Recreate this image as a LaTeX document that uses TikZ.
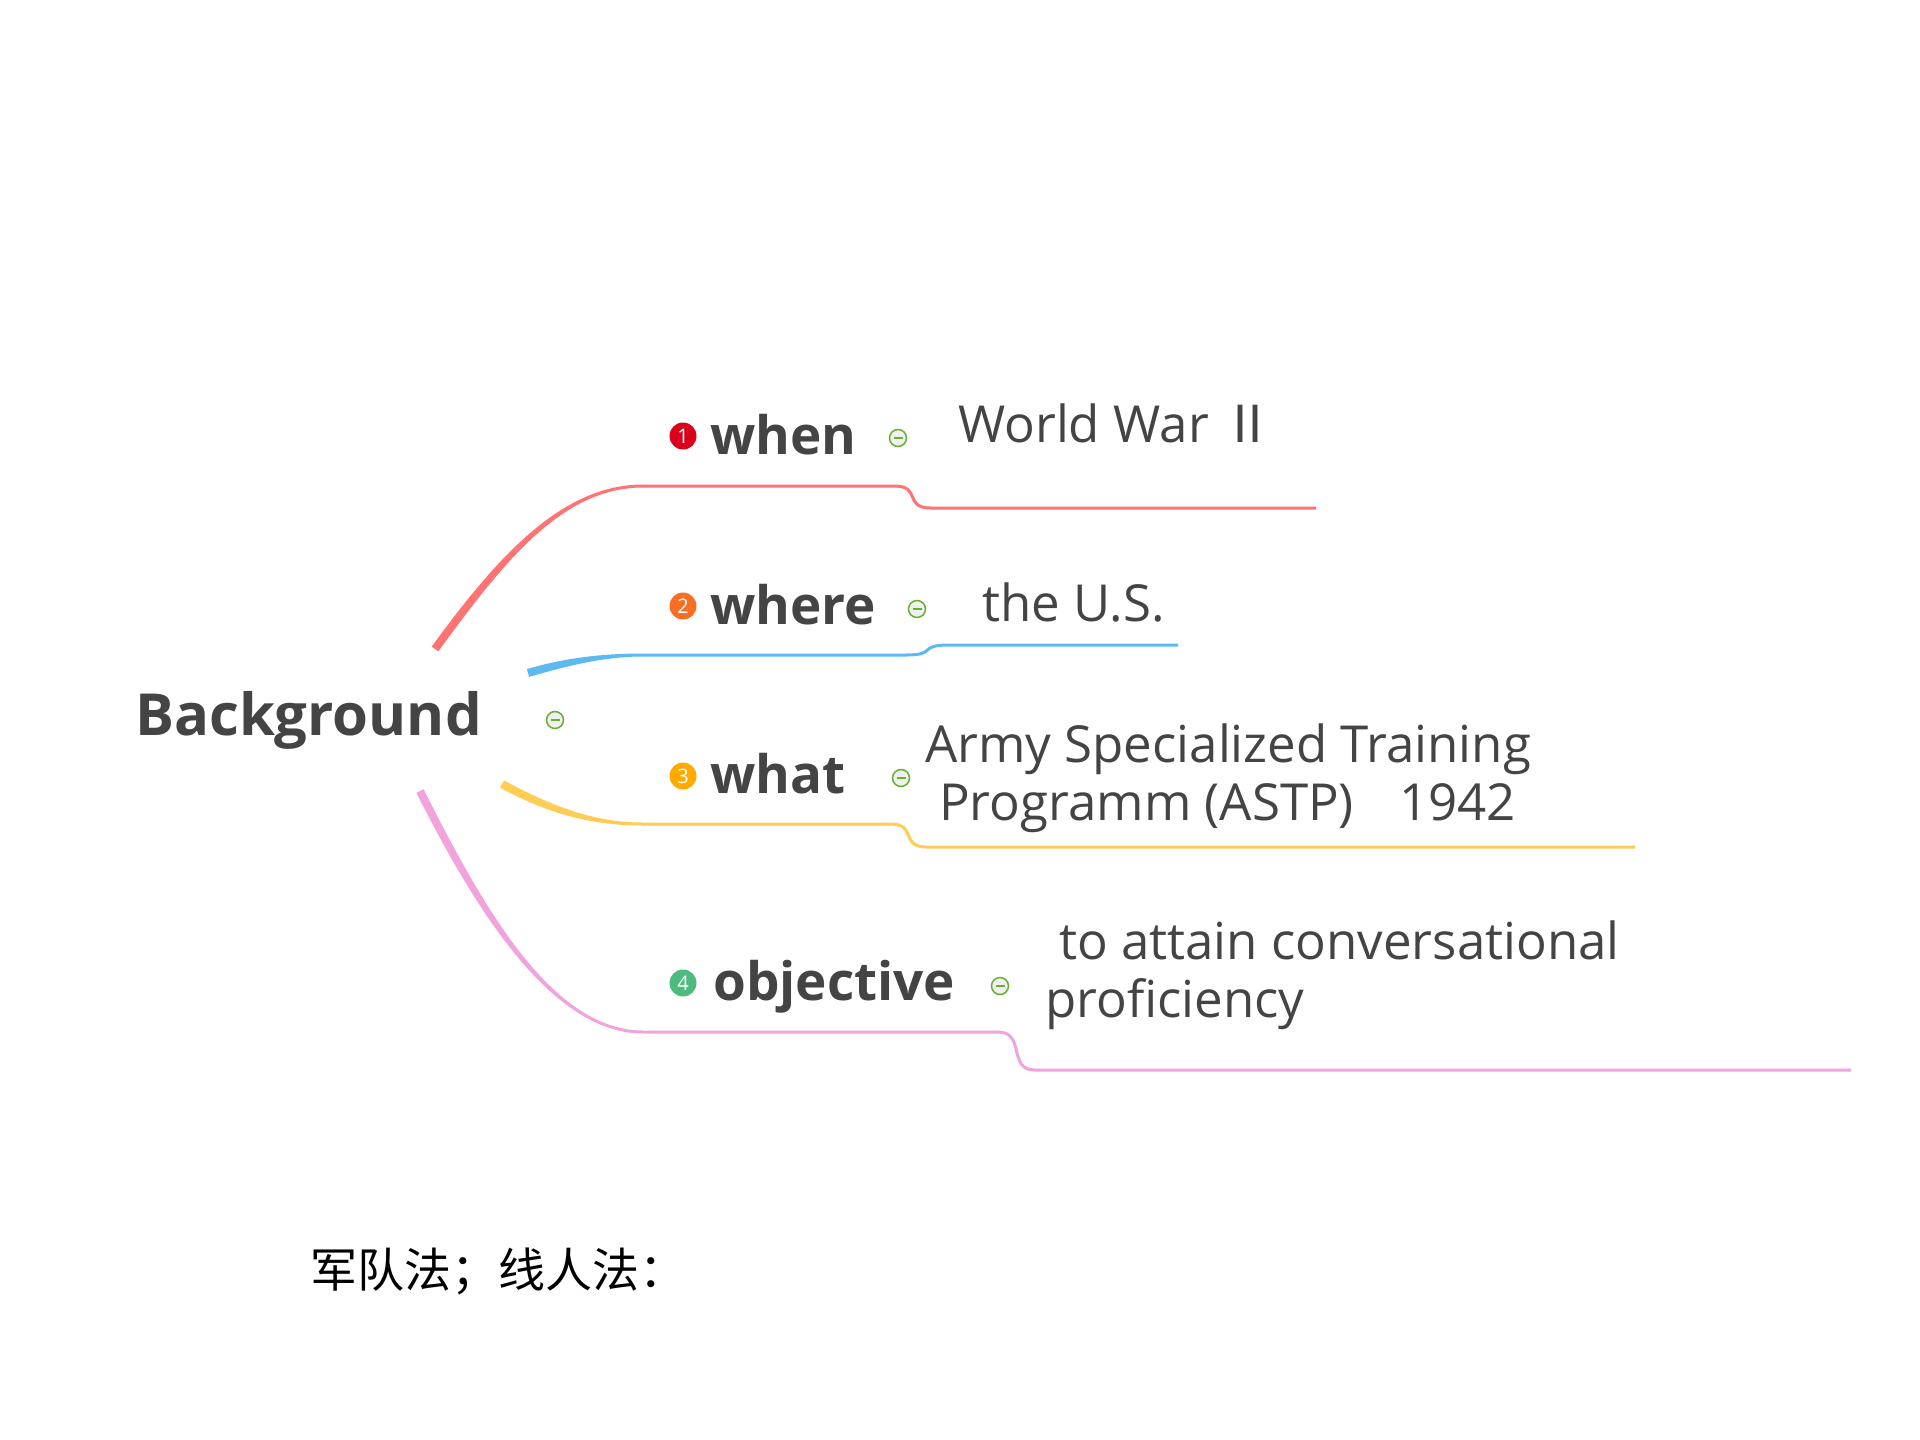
\documentclass[tikz,border=0pt]{standalone}
\usepackage{fontspec}
\setmainfont{Open Sans}
\newfontfamily\cjk{Noto Sans CJK SC}
\usetikzlibrary{calc}
\definecolor{txt}{HTML}{444444}
\definecolor{cred}{HTML}{FF7373}
\definecolor{cblue}{HTML}{5DB9F2}
\definecolor{cyel}{HTML}{FFCC55}
\definecolor{cpink}{HTML}{F0A3DD}
\definecolor{nred}{HTML}{D9001B}
\definecolor{norange}{HTML}{FA6E23}
\definecolor{nyel}{HTML}{FFAA00}
\definecolor{ngreen}{HTML}{4FBA7D}
\definecolor{mgreen}{HTML}{66B032}
\tikzset{
 root/.style={anchor=base west, inner sep=0, text=txt, font=\fontsize{58}{70}\selectfont\bfseries},
 topic/.style={anchor=base west, inner sep=0, text=txt, font=\fontsize{53}{64}\selectfont\bfseries},
 leaf/.style={anchor=base west, inner sep=0, text=txt, font=\fontsize{51}{59}\selectfont},
 num/.style={circle, fill=#1, inner sep=0, minimum size=27, text=white, font=\fontsize{20}{20}\selectfont},
 fold/.style={circle, draw=mgreen, line width=1.5, fill=black!6, minimum size=17, inner sep=0,
   path picture={\draw[mgreen, line width=1.6] ($(path picture bounding box.center)+(-4.5,0)$) -- ++(9,0);}},
 thinline/.style={line width=3},
}
\begin{document}
\begin{tikzpicture}[x=1pt,y=-1pt]
\useasboundingbox[fill=white] (0,0) rectangle (1920,1440);

% coordinates of branches
\coordinate (r0) at (435,649); \coordinate (r1) at (502,557); \coordinate (r2) at (563,486); \coordinate (r3) at (643,486);
\coordinate (r4) at (894,486); \coordinate (r5) at (931,508); \coordinate (r6) at (1316,508);
\coordinate (b0) at (528,673); \coordinate (b1) at (569,661); \coordinate (b2) at (606,655); \coordinate (b3) at (643,655);
\coordinate (b4) at (906,655); \coordinate (b5) at (949,645); \coordinate (b6) at (1178,645);
\coordinate (y0) at (502,784); \coordinate (y1) at (557,814); \coordinate (y2) at (600,824); \coordinate (y3) at (643,824);
\coordinate (y4) at (890,824); \coordinate (y5) at (927,847); \coordinate (y6) at (1635,847);
\coordinate (p0) at (420,791); \coordinate (p1) at (478,906); \coordinate (p2) at (551,1032); \coordinate (p3) at (643,1032);
\coordinate (p4) at (998,1032); \coordinate (p5) at (1035,1070); \coordinate (p6) at (1851,1070);

% tapered main branches
\fill[cred] ($(r0)+(3.3,2.4)$) .. controls ($(r1)+(3.3,2.4)$) and ($(r2)+(0,1.5)$) .. ($(r3)+(0,1.5)$)
  -- ($(r3)+(0,-1.5)$) .. controls ($(r2)+(0,-1.5)$) and ($(r1)-(3.3,2.4)$) .. ($(r0)-(3.3,2.4)$) -- cycle;
\fill[cblue] ($(b0)+(1.15,3.9)$) .. controls ($(b1)+(1.15,3.9)$) and ($(b2)+(0,1.5)$) .. ($(b3)+(0,1.5)$)
  -- ($(b3)+(0,-1.5)$) .. controls ($(b2)+(0,-1.5)$) and ($(b1)-(1.15,3.9)$) .. ($(b0)-(1.15,3.9)$) -- cycle;
\fill[cyel] ($(y0)+(-2,3.6)$) .. controls ($(y1)+(-2,3.6)$) and ($(y2)+(0,1.5)$) .. ($(y3)+(0,1.5)$)
  -- ($(y3)+(0,-1.5)$) .. controls ($(y2)+(0,-1.5)$) and ($(y1)-(-2,3.6)$) .. ($(y0)-(-2,3.6)$) -- cycle;
\fill[cpink] ($(p0)+(-3.6,1.8)$) .. controls ($(p1)+(-3.6,1.8)$) and ($(p2)+(0,1.5)$) .. ($(p3)+(0,1.5)$)
  -- ($(p3)+(0,-1.5)$) .. controls ($(p2)+(0,-1.5)$) and ($(p1)-(-3.6,1.8)$) .. ($(p0)-(-3.6,1.8)$) -- cycle;

% sub branches
\draw[cred, thinline] (r3) -- (r4) .. controls (922,486) and (903,508) .. (r5) -- (r6);
\draw[cblue, thinline] (b3) -- (b4) .. controls (938,655) and (917,645) .. (b5) -- (b6);
\draw[cyel, thinline] (y3) -- (y4) .. controls (918,824) and (899,847) .. (y5) -- (y6);
\draw[cpink, thinline] (p3) -- (p4) .. controls (1026,1032) and (1007,1070) .. (p5) -- (p6);

% root
\node[root] (bg) at (135,735) {Background};
\node[fold] (fbg) at (555,720) {};

% topics
\node[num=nred] (n1) at (683,436) {1};
\node[topic] (when) at (710,454) {when};
\node[fold] (f1) at (898,438) {};
\node[leaf] (ww) at (958,442) {World War {\cjk Ⅱ}};

\node[num=norange] (n2) at (683,606) {2};
\node[topic] (where) at (710,624) {where};
\node[fold] (f2) at (917,609) {};
\node[leaf] (us) at (982,621) {the U.S.};

\node[num=nyel] (n3) at (683,776) {3};
\node[topic] (what) at (710,793) {what};
\node[fold] (f3) at (901,778) {};
\node[leaf] (astp1) at (925,762) {Army Specialized Training};
\node[leaf] (astp2) at (939,820) {Programm (ASTP)\hspace{45pt}1942};

\node[num=ngreen] (n4) at (683,983) {4};
\node[topic] (obj) at (713,1000) {objective};
\node[fold] (f4) at (1000,986) {};
\node[leaf] (conv1) at (1059,959) {to attain conversational};
\node[leaf] (conv2) at (1045,1017) {proficiency};

% chinese note
\node[anchor=west, inner sep=0, font=\cjk\fontsize{47}{52}\selectfont] (note) at (310,1271) {军队法；线人法：};
\end{tikzpicture}
\end{document}
